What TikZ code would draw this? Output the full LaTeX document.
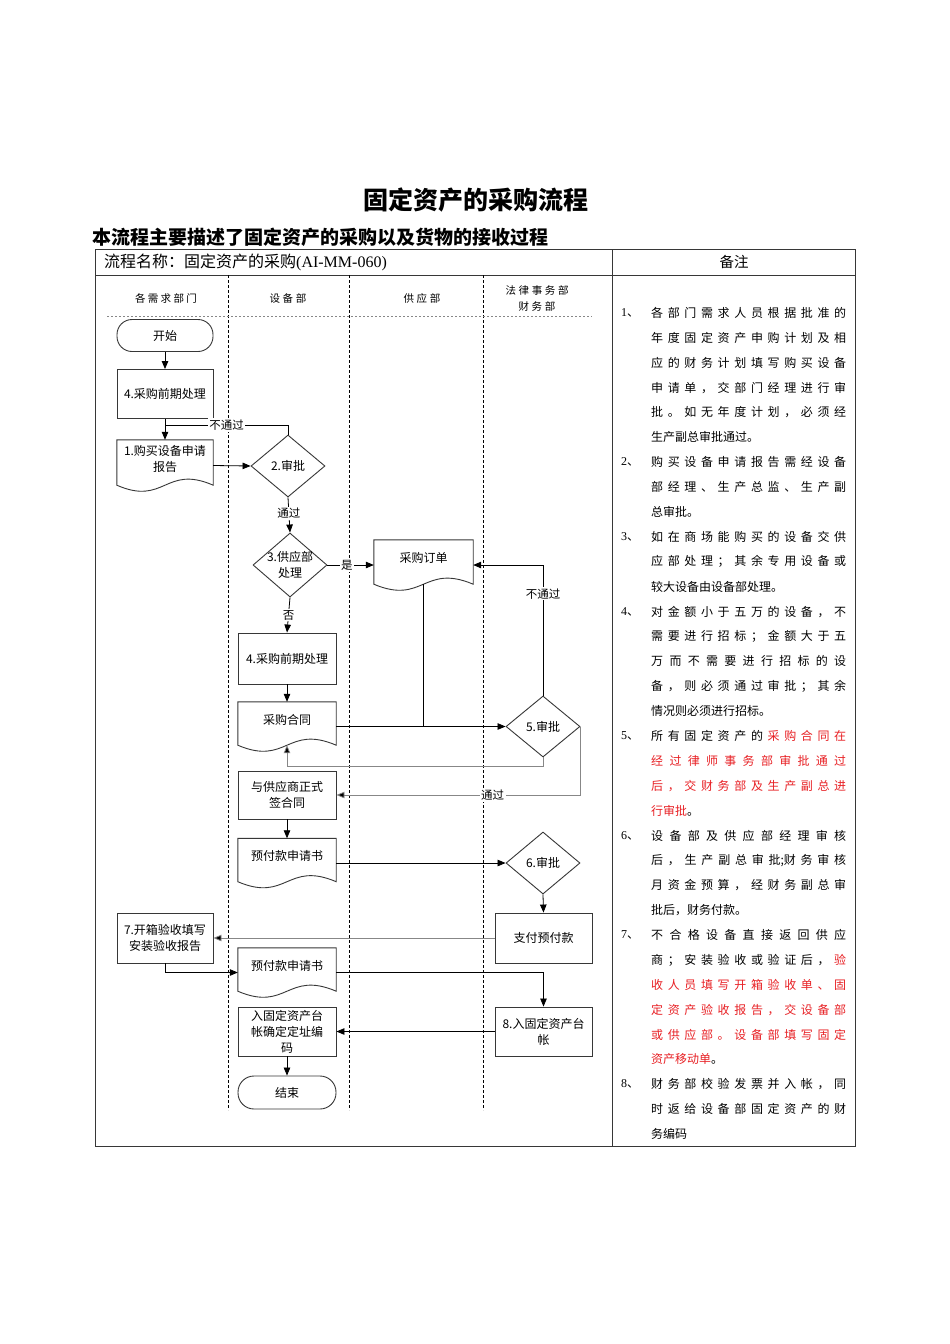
\documentclass[tikz,border=0pt]{standalone}
\usepackage{fontspec}
\setmainfont{Liberation Serif}
\newfontfamily\cjk{Noto Sans CJK SC}
\usetikzlibrary{shapes.geometric,arrows.meta,calc}
\definecolor{nred}{RGB}{232,32,36}
\definecolor{bline}{RGB}{55,55,55}
\definecolor{gline}{RGB}{135,135,135}
% inter-character glue for justified / spaced lines
\newXeTeXintercharclass\cjkc
\newcount\mycnt
\mycnt="3000
\loop \XeTeXcharclass\mycnt=\cjkc\relax \ifnum\mycnt<"9FFF \advance\mycnt by 1 \repeat
\mycnt="FF00
\loop \XeTeXcharclass\mycnt=\cjkc\relax \ifnum\mycnt<"FFEF \advance\mycnt by 1 \repeat
\XeTeXinterchartoks\cjkc\cjkc={\hfil}
\newcommand\spc[2]{\hbox to #1pt{\XeTeXinterchartokenstate=1 #2}}
\tikzset{
  ft/.style={font=\cjk\fontsize{12}{16}\selectfont},
  box/.style={rectangle, draw=bline, line width=0.9pt, inner sep=1pt, minimum width=97pt, minimum height=49pt, align=center, ft},
  term/.style={box, rounded corners=15pt, minimum height=32pt},
  docn/.style={rectangle, inner sep=1pt, minimum width=98pt, minimum height=49pt, align=center, ft, text depth=15pt},
  dia/.style={diamond, draw=bline, line width=0.9pt, inner sep=0pt, minimum width=74pt, minimum height=62pt},
  dlab/.style={ft, align=center, inner sep=0pt},
  con/.style={draw=black, line width=0.8pt},
  arr/.style={con, -{Triangle[length=8pt,width=6.5pt]}},
  garr/.style={draw=gline, line width=0.8pt, -{Triangle[length=8pt,width=6.5pt,fill=black]}},
  lbl/.style={fill=white, inner sep=1.5pt, font=\cjk\fontsize{11.5}{13}\selectfont},
  lanel/.style={font=\cjk\fontsize{10.5}{16}\selectfont, align=center},
  lane/.style={draw=black, line width=0.7pt, dash pattern=on 3pt off 2pt},
  tbl/.style={draw=bline, line width=1pt},
  notef/.style={font=\cjk\fontsize{12}{14}\selectfont, anchor=west, inner sep=0pt},
}
\newcommand\docout[1]{\draw[draw=bline,line width=0.9pt] (#1.north west) -- (#1.north east) -- ([yshift=6pt]#1.south east) .. controls ([yshift=27pt]#1.south) and ([yshift=-15pt]#1.south) .. ([yshift=6pt]#1.south west) -- cycle;}
\newcommand\jl[2]{\node[notef] (L#1) at (651,{313+24.88*#1}) {\spc{195}{#2}};}
\newcommand\nl[2]{\node[notef] (L#1) at (651,{313+24.88*#1}) {#2};}
\newcommand\num[2]{\node[notef] (N#1) at (621,{313+24.88*#2}) {{\rmfamily #1}、};}
\begin{document}
\begin{tikzpicture}[x=1pt,y=-1pt]
\useasboundingbox (0,0) rectangle (950,1344);
\fill[white] (0,0) rectangle (950,1344);
% titles
\node[font=\cjk\bfseries\fontsize{25}{29}\selectfont] (title) at (476,200) {固定资产的采购流程};
\node[font=\cjk\bfseries\fontsize{19}{23}\selectfont, anchor=west, inner sep=0pt] (sub) at (92,237) {本流程主要描述了固定资产的采购以及货物的接收过程};
% table
\draw[tbl] (95,249) rectangle (855,1146);
\draw[tbl] (95,275) -- (855,275);
\draw[tbl] (612,249) -- (612,1146);
\node[font=\cjk\fontsize{16}{18}\selectfont, anchor=west, inner sep=0pt] (hdr) at (104,262) {流程名称：固定资产的采购{\rmfamily (AI-MM-060)}};
\node[font=\cjk\fontsize{14.5}{18}\selectfont] (hdr2) at (734,262) {备注};
% lanes
\draw[lane] (228,275) -- (228,1110);
\draw[lane] (349,275) -- (349,1110);
\draw[lane] (483,275) -- (483,1110);
\draw[draw=gline, line width=0.8pt, dash pattern=on 2pt off 2pt] (107,316) -- (592,316);
\node[lanel] (ln1) at (166,298) {\spc{62}{各需求部门}};
\node[lanel] (ln2) at (288,298) {\spc{37}{设备部}};
\node[lanel] (ln3) at (422,298) {\spc{37}{供应部}};
\node[lanel] (ln4a) at (537,290) {\spc{63}{法律事务部}};
\node[lanel] (ln4b) at (537,306) {\spc{37}{财务部}};
% flow nodes
\node[term, minimum width=96pt] (start) at (165,335.5) {开始};
\node[box, minimum width=96pt] (p4a) at (165,394) {4.采购前期处理};
\node[docn, minimum width=96pt, minimum height=51pt] (d1) at (165,465.5) {1.购买设备申请\\报告};
\node[dia, label={[dlab]center:2.审批}] (a2) at (288,466) {};
\node[dia, minimum height=64pt, label={[dlab]center:3.供应部\\处理}] (a3) at (290,565) {};
\node[docn, minimum width=99pt, minimum height=50pt] (po) at (423.5,565) {采购订单};
\node[box, minimum width=98pt, minimum height=51pt] (p4b) at (287,658.5) {4.采购前期处理};
\node[docn] (pc) at (287,726.5) {采购合同};
\node[dia, minimum height=61pt, label={[dlab]center:5.审批}] (a5) at (543,726.5) {};
\node[box, minimum width=98pt, minimum height=48pt] (sign) at (287,795) {与供应商正式\\签合同};
\node[docn] (pay1) at (287,863) {预付款申请书};
\node[dia, label={[dlab]center:6.审批}] (a6) at (543,863) {};
\node[box, minimum height=50pt] (paid) at (543.5,938) {支付预付款};
\node[box, minimum width=96pt, minimum height=50pt] (r7) at (165,938) {7.开箱验收填写\\安装验收报告};
\node[docn] (pay2) at (287,972.5) {预付款申请书};
\node[box] (r8) at (543.5,1031.5) {8.入固定资产台\\帐};
\node[box, minimum width=98pt] (rin) at (287,1031.5) {入固定资产台\\帐确定定址编\\码};
\node[term, minimum width=98pt, minimum height=33pt, rounded corners=16pt] (end) at (287,1092.5) {结束};
\docout{d1}
\docout{po}
\docout{pc}
\docout{pay1}
\docout{pay2}
\coordinate (j1) at (165,425);
% connectors
\draw[arr] (start) -- (p4a);
\draw[arr] (p4a) -- (d1.north);
\draw[con] (a2.north) |- (j1) node[lbl, pos=0.75] {不通过};
\draw[arr] (d1.east) -- (a2.west);
\draw[arr] (a2.south) -- (a3.north) node[lbl, pos=0.45] {通过};
\draw[arr] (a3.east) -- (po.west) node[lbl, pos=0.42] {是};
\draw[arr] (a3.south) -- (p4b.north) node[lbl, pos=0.5] {否};
\draw[arr] (p4b.south) -- (pc.north);
\draw[arr] (pc.east) -- (a5.west);
\draw[con] ([yshift=6pt]po.south) -- (po.south |- pc.east);
\draw[arr] (a5.north) |- (po.east) node[lbl, pos=0.39] {不通过};
\draw[garr] (a5.south) -- ++(0,8.5) -| ([yshift=6pt]pc.south);
\draw[garr] (a5.east) |- (sign.east) node[lbl, pos=0.68] {通过};
\draw[arr] (sign.south) -- (pay1.north);
\draw[arr] (pay1.east) -- (a6.west);
\draw[arr] (a6.south) -- (paid.north);
\draw[garr] (paid.west) -- (r7.east);
\draw[arr] (r7.south) |- (pay2.west);
\draw[arr] (pay2.east) -| (r8.north);
\draw[arr] (r8.west) -- (rin.east);
\draw[arr] (rin.south) -- (end.north);
% notes
\num{1}{0}
\jl{0}{各部门需求人员根据批准的}
\jl{1}{年度固定资产申购计划及相}
\jl{2}{应的财务计划填写购买设备}
\jl{3}{申请单，交部门经理进行审}
\jl{4}{批。如无年度计划，必须经}
\nl{5}{生产副总审批通过。}
\num{2}{6}
\jl{6}{购买设备申请报告需经设备}
\jl{7}{部经理、生产总监、生产副}
\nl{8}{总审批。}
\num{3}{9}
\jl{9}{如在商场能购买的设备交供}
\jl{10}{应部处理；其余专用设备或}
\nl{11}{较大设备由设备部处理。}
\num{4}{12}
\jl{12}{对金额小于五万的设备，不}
\jl{13}{需要进行招标；金额大于五}
\jl{14}{万而不需要进行招标的设}
\jl{15}{备，则必须通过审批；其余}
\nl{16}{情况则必须进行招标。}
\num{5}{17}
\jl{17}{所有固定资产的\hfil\textcolor{nred}{采购合同在}}
\jl{18}{\textcolor{nred}{经过律师事务部审批通过}}
\jl{19}{\textcolor{nred}{后，交财务部及生产副总进}}
\nl{20}{\textcolor{nred}{行审批}。}
\num{6}{21}
\jl{21}{设备部及供应部经理审核}
\jl{22}{后，生产副总审批;财务审核}
\jl{23}{月资金预算，经财务副总审}
\nl{24}{批后，财务付款。}
\num{7}{25}
\jl{25}{不合格设备直接返回供应}
\jl{26}{商；安装验收或验证后，\hfil\textcolor{nred}{验}}
\jl{27}{\textcolor{nred}{收人员填写开箱验收单、固}}
\jl{28}{\textcolor{nred}{定资产验收报告，交设备部}}
\jl{29}{\textcolor{nred}{或供应部。设备部填写固定}}
\nl{30}{\textcolor{nred}{资产移动单}。}
\num{8}{31}
\jl{31}{财务部校验发票并入帐，同}
\jl{32}{时返给设备部固定资产的财}
\nl{33}{务编码}
\end{tikzpicture}
\end{document}
